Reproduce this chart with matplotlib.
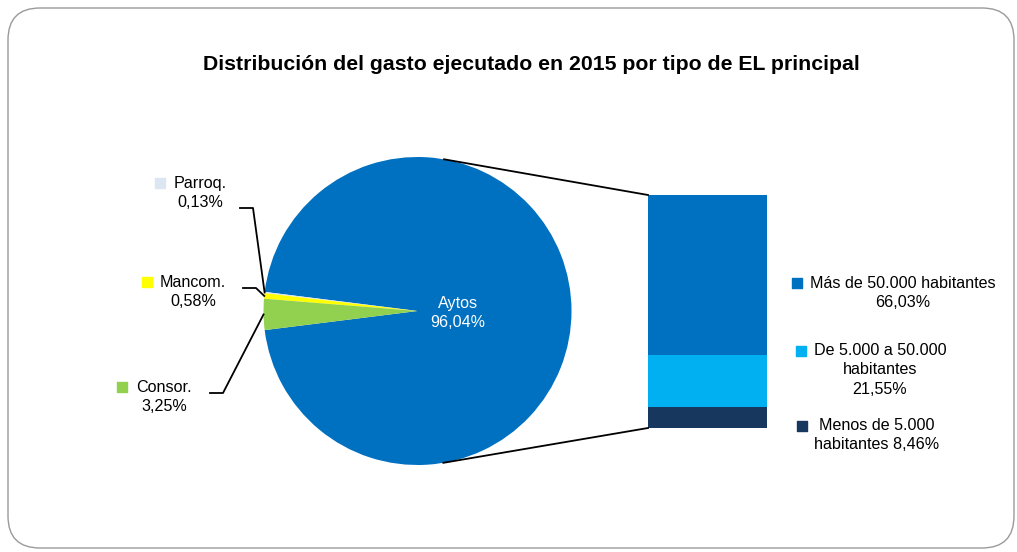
import numpy as np
import matplotlib
matplotlib.use("Agg")
import matplotlib.pyplot as plt
from matplotlib.patches import FancyBboxPatch

plt.rcParams['font.family'] = ['Liberation Sans', 'DejaVu Sans']

title = "Distribución del gasto ejecutado en 2015 por tipo de EL principal"
pie_labels = ["Aytos", "Parroq.", "Mancom.", "Consor."]
pie_values = [96.04, 0.13, 0.58, 3.25]
pie_colors = ["#0070C0", "#DCE6F2", "#FFFF00", "#92D050"]

bar_labels = ["Menos de 5.000\nhabitantes 8,46%", "De 5.000 a 50.000\nhabitantes\n21,55%",
              "Más de 50.000 habitantes\n66,03%"]
bar_values = [8.46, 21.55, 66.03]
bar_colors = ["#17375E", "#00B0F0", "#0070C0"]

W, H = 1017, 552
fig = plt.figure(figsize=(W / 100, H / 100), dpi=100)
ax = fig.add_axes([0, 0, 1, 1])
ax.set_xlim(0, W)
ax.set_ylim(0, H)
ax.set_aspect('equal')
ax.axis('off')

def Y(y):
    return H - y

# frame
frame = FancyBboxPatch((8, Y(548)), 1006, 540, boxstyle="round,pad=0,rounding_size=32",
                       fc="white", ec="#9A9A9A", lw=1.0)
ax.add_patch(frame)

ax.text(531, Y(65), title, ha='center', va='center', fontsize=15.3, fontweight='bold')

# pie
cx, cy, r = 417.5, Y(311), 154
start = -pie_values[0] * 3.6 / 2
wedges, _ = ax.pie(pie_values, colors=pie_colors, startangle=start, counterclock=True,
                   center=(cx, cy), radius=r, frame=True,
                   wedgeprops=dict(linewidth=0))
ax.set_xlim(0, W)
ax.set_ylim(0, H)
ax.axis('off')

FS = 11.6
LS = 1.4
ax.text(458, Y(313), "Aytos\n96,04%", ha='center', va='center', color='white', fontsize=FS,
        linespacing=LS)

# small-slice labels with leader lines
lab_info = {
    "Parroq.": dict(txt=(200, 193), mk=(160, 183), elbow=[(253, 208), (240, 208)]),
    "Mancom.": dict(txt=(193, 292), mk=(147, 282), elbow=[(256, 288), (243, 288)]),
    "Consor.": dict(txt=(164, 397), mk=(122, 387), elbow=[(223, 393), (210, 393)]),
}
pct = {"Parroq.": "0,13%", "Mancom.": "0,58%", "Consor.": "3,25%"}
cum = start
for lab, val, col, w in zip(pie_labels, pie_values, pie_colors, wedges):
    a0 = cum
    cum += val * 3.6
    if lab == "Aytos":
        continue
    mid = np.deg2rad((a0 + cum) / 2)
    px, py = cx + r * np.cos(mid), cy + r * np.sin(mid)
    info = lab_info[lab]
    xs = [px] + [e[0] for e in info["elbow"]]
    ys = [py] + [Y(e[1]) for e in info["elbow"]]
    ax.plot(xs, ys, color='black', lw=1.3)
    ax.text(info["txt"][0], Y(info["txt"][1]), f"{lab}\n{pct[lab]}", ha='center', va='center',
            fontsize=FS, linespacing=LS)
    ax.scatter([info["mk"][0]], [Y(info["mk"][1])], marker='s', s=42, color=col, zorder=5)

# bar of pie
bx0, bwidth = 648, 119
bbot = Y(428)
scale = (Y(195) - Y(428)) / sum(bar_values)
bottom = bbot
for v, c in zip(bar_values, bar_colors):
    ax.bar(bx0, v * scale, width=bwidth, bottom=bottom, color=c, align='edge', lw=0)
    bottom += v * scale
btop = bottom

# tangent connector lines
def tangent(px, py, upper):
    dx, dy = px - cx, py - cy
    d = np.hypot(dx, dy)
    th = np.arctan2(dy, dx)
    al = np.arccos(r / d)
    a = th + al if upper else th - al
    return cx + r * np.cos(a), cy + r * np.sin(a)

tx, ty = tangent(bx0, btop, True)
ax.plot([tx, bx0], [ty, btop], color='black', lw=1.3)
tx, ty = tangent(bx0, bbot, False)
ax.plot([tx, bx0], [ty, bbot], color='black', lw=1.3)

# bar legend labels
bar_lab_pos = [((877, 435), (802, 426)), ((880, 370), (801, 351)), ((903, 293), (797, 283))]
for lab, c, (tp, mp) in zip(bar_labels, bar_colors, bar_lab_pos):
    ax.text(tp[0], Y(tp[1]), lab, ha='center', va='center', fontsize=FS, linespacing=LS)
    ax.scatter([mp[0]], [Y(mp[1])], marker='s', s=42, color=c, zorder=5)

fig.savefig("out.png", dpi=100)
